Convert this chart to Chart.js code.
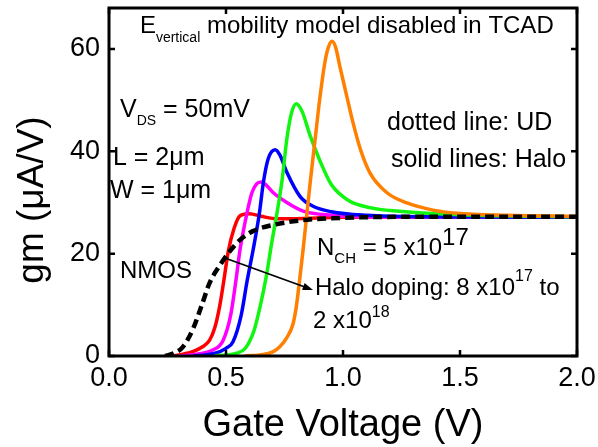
<!DOCTYPE html>
<html>
<head>
<meta charset="utf-8">
<script src="https://cdn.jsdelivr.net/npm/chart.js@4.4.0/dist/chart.umd.min.js"></script>
<style>
  html, body { margin: 0; padding: 0; background: #fff; }
  canvas { display: block; }
</style>
</head>
<body>
<canvas id="gmChart" width="598" height="447"></canvas>
<script>
// gm vs gate voltage - NMOS, uniform doping (dotted) vs halo doping (solid)
const FONT = "'Liberation Sans', Arial, sans-serif";

const xTicks = [0, 0.5, 1.0, 1.5, 2.0];
const yTicks = [0, 20, 40, 60];

// UD device (black dotted)
const udV  = [0.24, 0.28, 0.316, 0.36, 0.40, 0.43, 0.475, 0.517, 0.56, 0.615, 0.70, 0.82, 1.0, 1.3, 1.6, 2.0];
const udGm = [0, 0.6, 1.8, 5.4, 10.4, 14.3, 17.8, 20.5, 22.7, 24.4, 25.6, 26.5, 27.0, 27.2, 27.2, 27.2];

// halo devices, lowest halo doping first
const redV  = [0.27, 0.32, 0.36, 0.40, 0.43, 0.452, 0.472, 0.49, 0.51, 0.535, 0.56, 0.60, 0.65, 0.72, 0.85, 1.0, 1.4, 2.0];
const redGm = [0, 0.4, 0.9, 1.8, 3.1, 5.5, 9.5, 14.5, 20.5, 25.0, 27.4, 27.8, 27.3, 26.8, 26.9, 27.1, 27.1, 27.1];

const magV  = [0.30, 0.38, 0.445, 0.487, 0.52, 0.542, 0.56, 0.59, 0.61, 0.63, 0.65, 0.67, 0.70, 0.76, 0.83, 0.95, 1.2, 2.0];
const magGm = [0, 0.4, 1.2, 3.0, 8.0, 14.6, 20.8, 28.0, 31.8, 33.6, 34.0, 33.5, 32.0, 30.0, 28.3, 27.5, 27.1, 27.1];

const blueV  = [0.36, 0.45, 0.50, 0.53, 0.565, 0.59, 0.617, 0.643, 0.66, 0.68, 0.71, 0.73, 0.76, 0.816, 0.87, 0.95, 1.1, 1.4, 2.0];
const blueGm = [0, 0.5, 1.5, 2.8, 8.0, 14.6, 21.0, 28.0, 34.0, 38.5, 40.3, 39.3, 35.9, 31.2, 29.3, 28.2, 27.5, 27.2, 27.1];

const greenV  = [0.45, 0.55, 0.58, 0.60, 0.62, 0.645, 0.672, 0.695, 0.72, 0.74, 0.76, 0.78, 0.80, 0.825, 0.86, 0.90, 0.95, 1.02, 1.115, 1.24, 1.5, 2.0];
const greenGm = [0, 0.6, 1.4, 2.8, 5.0, 9.5, 15.5, 22.0, 28.5, 34.5, 42.4, 47.5, 49.3, 47.8, 43.0, 38.3, 33.5, 30.5, 29.0, 28.3, 27.6, 27.2];

const orangeV  = [0.58, 0.66, 0.70, 0.73, 0.76, 0.786, 0.80, 0.815, 0.83, 0.845, 0.86, 0.885, 0.90, 0.923, 0.938, 0.953, 0.968, 0.987, 1.017, 1.045, 1.075, 1.115, 1.188, 1.274, 1.385, 1.487, 1.7, 2.0];
const orangeGm = [0, 0.3, 0.8, 1.8, 3.6, 6.2, 9.5, 15.0, 21.0, 27.5, 34.0, 44.0, 50.0, 57.5, 60.4, 61.5, 60.4, 56.5, 50.6, 45.2, 40.3, 35.8, 31.9, 29.9, 28.5, 27.9, 27.5, 27.3];

// text notes, placed in data units: [V, gm, [text, size, dy]...]
const notes = [
  [0.132, 63.1, [['E', 24], ['vertical', 14, 9], [' mobility model disabled in TCAD', 24]]],
  [0.047, 46.7, [['V', 25], ['DS', 14, 8], [' = 50mV', 25]]],
  [0.017, 37.3, [['L = 2\u03BCm', 25]]],
  [0.004, 30.9, [['W = 1\u03BCm', 25]]],
  [0.047, 15.2, [['NMOS', 24]]],
  [1.188, 44.2, [['dotted line: UD', 25]]],
  [1.205, 36.9, [['solid lines: Halo', 25]]],
  [0.889, 19.7, [['N', 24], ['CH', 15, 8], [' = 5 x10', 24], ['17', 24, -10]]],
  [0.880, 11.9, [['Halo doping: 8 x10', 24], ['17', 16, -14], [' to', 24]]],
  [0.872, 5.5, [['2 x10', 24], ['18', 16, -11]]]
];
const arrowFrom = [0.504, 19.0];
const arrowTo = [0.872, 12.9];

function pts(v, g) {
  return v.map((x, i) => ({ x: x, y: g[i] }));
}

function series(v, g, color, order) {
  return {
    data: pts(v, g),
    borderColor: color,
    borderWidth: 3.5,
    pointRadius: 0,
    cubicInterpolationMode: 'monotone',
    order: order
  };
}

const ud = series(udV, udGm, '#000000', 0);
ud.borderDash = [9, 5];
ud.borderWidth = 4.5;

const decor = {
  id: 'decor',
  afterDatasetsDraw(chart) {
    const ctx = chart.ctx;
    const a = chart.chartArea;
    const xs = chart.scales.x, ys = chart.scales.y;
    ctx.save();
    ctx.strokeStyle = '#000';
    ctx.lineWidth = 3;
    ctx.strokeRect(a.left, a.top, a.right - a.left, a.bottom - a.top);
    ctx.lineWidth = 2.5;
    ctx.beginPath();
    xTicks.forEach(t => {
      const px = xs.getPixelForValue(t);
      ctx.moveTo(px, a.bottom); ctx.lineTo(px, a.bottom - 6);
      ctx.moveTo(px, a.top); ctx.lineTo(px, a.top + 6);
    });
    yTicks.forEach(t => {
      const py = ys.getPixelForValue(t);
      ctx.moveTo(a.left, py); ctx.lineTo(a.left + 6, py);
      ctx.moveTo(a.right, py); ctx.lineTo(a.right - 6, py);
    });
    ctx.stroke();

    // arrow
    const x1 = xs.getPixelForValue(arrowFrom[0]), y1 = ys.getPixelForValue(arrowFrom[1]);
    const x2 = xs.getPixelForValue(arrowTo[0]), y2 = ys.getPixelForValue(arrowTo[1]);
    const ang = Math.atan2(y2 - y1, x2 - x1);
    ctx.lineWidth = 1.8;
    ctx.beginPath();
    ctx.moveTo(x1, y1);
    ctx.lineTo(x2 - 8 * Math.cos(ang), y2 - 8 * Math.sin(ang));
    ctx.stroke();
    ctx.fillStyle = '#000';
    ctx.beginPath();
    ctx.moveTo(x2, y2);
    ctx.lineTo(x2 - 11 * Math.cos(ang - 0.35), y2 - 11 * Math.sin(ang - 0.35));
    ctx.lineTo(x2 - 11 * Math.cos(ang + 0.35), y2 - 11 * Math.sin(ang + 0.35));
    ctx.closePath();
    ctx.fill();

    // notes
    ctx.textBaseline = 'alphabetic';
    ctx.textAlign = 'left';
    notes.forEach(n => {
      let x = xs.getPixelForValue(n[0]);
      const y = ys.getPixelForValue(n[1]);
      n[2].forEach(p => {
        ctx.font = p[1] + 'px ' + FONT;
        ctx.fillText(p[0], x, y + (p[2] || 0));
        x += ctx.measureText(p[0]).width;
      });
    });

    // axis titles
    ctx.font = '38px ' + FONT;
    ctx.textAlign = 'center';
    ctx.fillText('Gate Voltage (V)', (a.left + a.right) / 2, 436);
    ctx.save();
    ctx.translate(43, 200);
    ctx.rotate(-Math.PI / 2);
    ctx.font = '37px ' + FONT;
    ctx.fillText('gm (\u03BCA/V)', 0, 0);
    ctx.restore();
    ctx.restore();
  }
};

const tickFont = { family: FONT, size: 27 };

new Chart(document.getElementById('gmChart'), {
  type: 'line',
  data: {
    datasets: [
      ud,
      series(orangeV, orangeGm, '#FF8000', 1),
      series(greenV, greenGm, '#11F511', 2),
      series(blueV, blueGm, '#0000FF', 3),
      series(magV, magGm, '#FF00FF', 4),
      series(redV, redGm, '#FF0000', 5)
    ]
  },
  options: {
    responsive: false,
    animation: false,
    devicePixelRatio: 1,
    layout: { padding: { top: 8, right: 21, left: 0, bottom: 0 } },
    plugins: { legend: { display: false }, tooltip: { enabled: false } },
    scales: {
      x: {
        type: 'linear',
        min: 0,
        max: 2,
        afterBuildTicks: s => { s.ticks = xTicks.map(v => ({ value: v })); },
        afterFit: s => { s.height = 91; s.paddingLeft = 0; s.paddingRight = 0; },
        ticks: {
          callback: v => v.toFixed(1),
          font: tickFont,
          color: '#000',
          padding: 6,
          maxRotation: 0,
          autoSkip: false
        },
        grid: { display: false, drawTicks: false },
        border: { display: false }
      },
      y: {
        min: 0,
        max: 68,
        afterBuildTicks: s => { s.ticks = yTicks.map(v => ({ value: v })); },
        afterFit: s => { s.width = 109; s.paddingTop = 0; s.paddingBottom = 0; },
        ticks: { font: tickFont, color: '#000', padding: 9 },
        grid: { display: false, drawTicks: false },
        border: { display: false }
      }
    }
  },
  plugins: [decor]
});
</script>
</body>
</html>
